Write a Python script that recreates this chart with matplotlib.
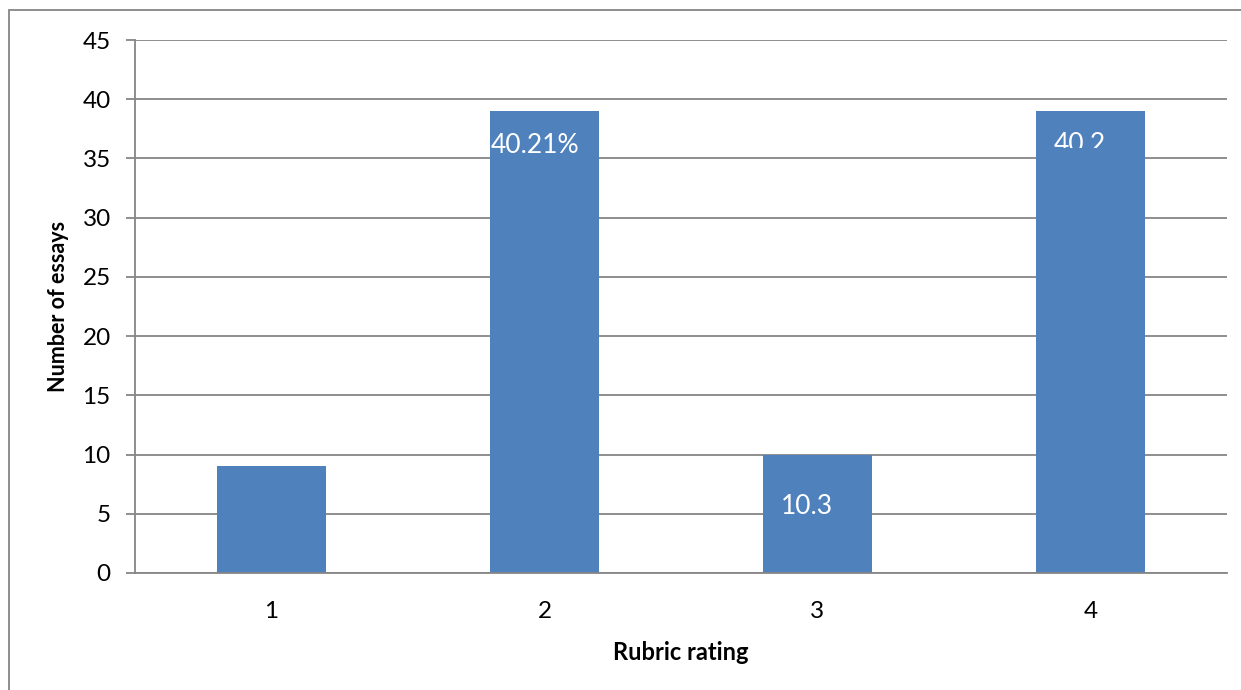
import matplotlib.pyplot as plt
from matplotlib.patches import Rectangle

plt.rcParams['font.family'] = ['Lato', 'DejaVu Sans']

# Essay counts per rubric rating
ratings = ["1", "2", "3", "4"]
counts = [9, 39, 10, 39]

# Percent labels shown inside bars 2, 3 and 4
total = sum(counts)
pct = [c / total * 100 for c in counts]

bar_color = "#4F81BD"
grid_color = "#868686"

fig = plt.figure(figsize=(12.41, 6.9), dpi=100)
ax = fig.add_axes([0.1088, 0.1696, 0.8799, 0.7724])

x = list(range(1, len(ratings) + 1))
bars = ax.bar(x, counts, width=0.4, color=bar_color, zorder=3)

ax.set_xlim(0.5, 4.5)
ax.set_ylim(0, 45)
ax.set_yticks(range(0, 46, 5))
ax.set_xticks(x)
ax.set_xticklabels(ratings)

ax.yaxis.grid(True, color=grid_color, linewidth=1.3, zorder=0)
for s in ["top", "right"]:
    ax.spines[s].set_visible(False)
for s in ["left", "bottom"]:
    ax.spines[s].set_color(grid_color)
    ax.spines[s].set_linewidth(1.3)
ax.spines["bottom"].set_zorder(4)

ax.tick_params(axis="y", length=6.5, width=1.3, color=grid_color,
               labelsize=17.5, pad=11)
ax.tick_params(axis="x", length=0, labelsize=17.5, pad=20)

ax.set_xlabel("Rubric rating", fontsize=17, fontweight="bold", labelpad=14)
ax.set_ylabel("Number of essays", fontsize=15.5, fontweight="bold", labelpad=10)

# data labels
ax.text(1.965, 36.1, f"{pct[1]:.2f}%", color="white", fontsize=19,
        ha="center", va="center", zorder=5)
ax.text(2.96, 5.6, f"{pct[2]:.1f}", color="white", fontsize=19,
        ha="center", va="center", zorder=5)
t4 = ax.text(3.96, 36.2, f"{pct[3]:.1f}", color="white", fontsize=19,
             ha="center", va="center", zorder=5)
clip = Rectangle((3.5, 35.9), 1.0, 10, transform=ax.transData,
                 visible=False)
ax.add_patch(clip)
t4.set_clip_on(True)
t4.set_clip_path(clip)

# outer chart border (left and top only visible)
fig.patches.append(Rectangle((9 / 1241, -0.1), 1.0, 1.1 - 10 / 690,
                             transform=fig.transFigure, fill=False,
                             edgecolor=grid_color, linewidth=1.3))

fig.savefig("out.png", dpi=100)
